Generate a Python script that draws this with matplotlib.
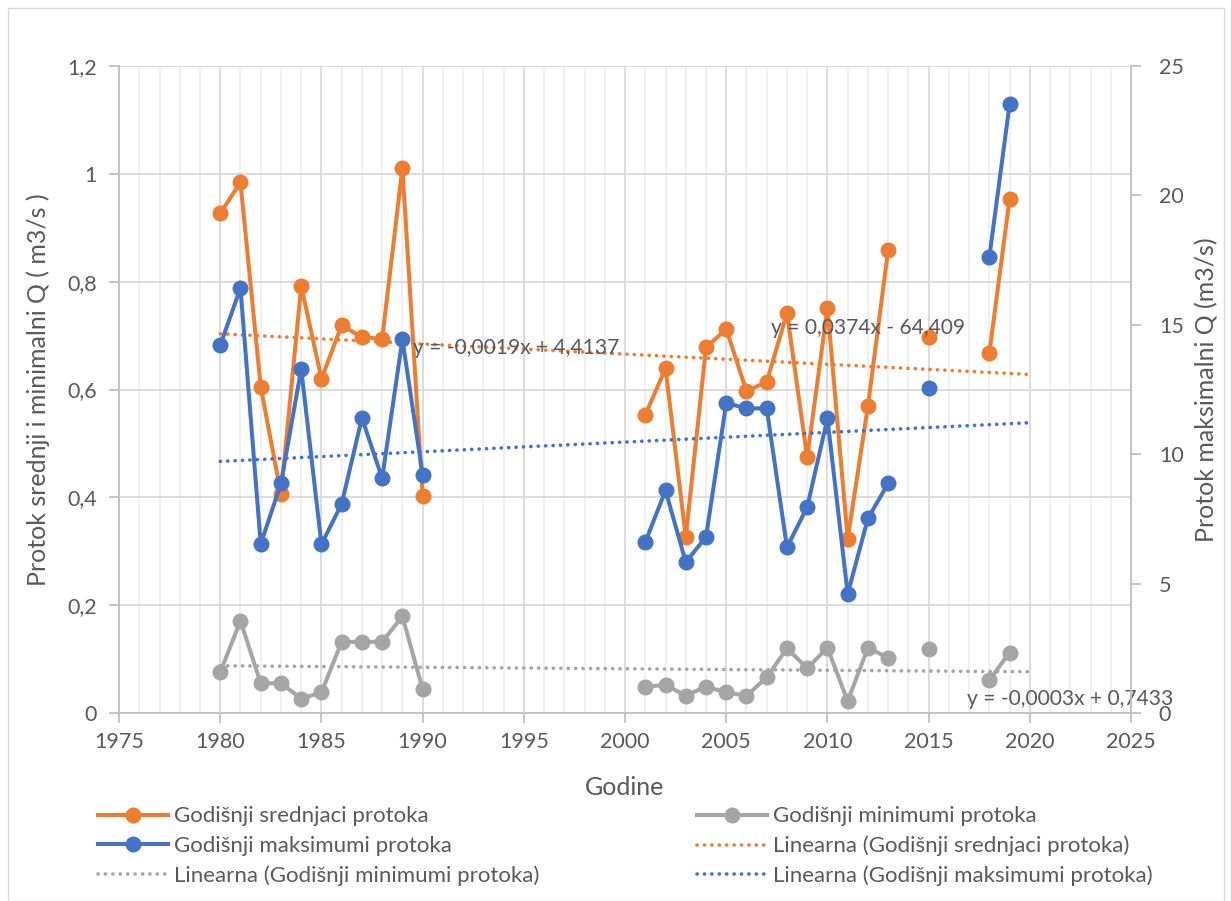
import numpy as np
import matplotlib
matplotlib.use("Agg")
import matplotlib.pyplot as plt
from matplotlib.ticker import FixedLocator, MultipleLocator
from matplotlib.lines import Line2D
from matplotlib.patches import Rectangle

plt.rcParams['font.family'] = ['Lato', 'DejaVu Sans']

nan = np.nan
years = [1980, 1981, 1982, 1983, 1984, 1985, 1986, 1987, 1988, 1989, 1990,
         1991, 1992, 1993, 1994, 1995, 1996, 1997, 1998, 1999, 2000,
         2001, 2002, 2003, 2004, 2005, 2006, 2007, 2008, 2009, 2010, 2011, 2012, 2013,
         2014, 2015, 2016, 2017, 2018, 2019]
mean_flow = [0.927, 0.984, 0.605, 0.406, 0.792, 0.620, 0.719, 0.697, 0.694, 1.011, 0.403,
             nan, nan, nan, nan, nan, nan, nan, nan, nan, nan,
             0.553, 0.639, 0.326, 0.678, 0.712, 0.597, 0.614, 0.742, 0.474, 0.751, 0.323, 0.569, 0.859,
             nan, 0.697, nan, nan, 0.668, 0.954]
max_flow = [14.21, 16.42, 6.52, 8.88, 13.29, 6.52, 8.08, 11.40, 9.07, 14.44, 9.21,
            nan, nan, nan, nan, nan, nan, nan, nan, nan, nan,
            6.60, 8.60, 5.83, 6.80, 11.98, 11.77, 11.77, 6.40, 7.96, 11.38, 4.60, 7.52, 8.87,
            nan, 12.57, nan, nan, 17.62, 23.53]
min_flow = [0.0755, 0.171, 0.055, 0.055, 0.0266, 0.038, 0.132, 0.132, 0.132, 0.179, 0.044,
            nan, nan, nan, nan, nan, nan, nan, nan, nan, nan,
            0.049, 0.052, 0.032, 0.049, 0.038, 0.032, 0.066, 0.120, 0.083, 0.121, 0.022, 0.121, 0.102,
            nan, 0.119, nan, nan, 0.061, 0.112]

x_ticks = [1975, 1980, 1985, 1990, 1995, 2000, 2005, 2010, 2015, 2020, 2025]
left_ticks = [0, 0.2, 0.4, 0.6, 0.8, 1.0, 1.2]
left_labels = ['0', '0,2', '0,4', '0,6', '0,8', '1', '1,2']
right_ticks = [0, 5, 10, 15, 20, 25]
right_labels = ['0', '5', '10', '15', '20', '25']

names = ['Godišnji srednjaci protoka', 'Godišnji minimumi protoka', 'Godišnji maksimumi protoka']
trend_names = ['Linearna (Godišnji srednjaci protoka)', 'Linearna (Godišnji minimumi protoka)',
               'Linearna (Godišnji maksimumi protoka)']
eq_texts = ['y = -0,0019x + 4,4137', 'y = -0,0003x + 0,7433', 'y = 0,0374x - 64,409']

ORANGE = '#ED7D31'
BLUE = '#4472C4'
GRAY = '#A5A5A5'
TXT = '#595959'

fig = plt.figure(figsize=(12.31, 9.01), dpi=100)
fig.patches.append(Rectangle((0.0065, 0.0), 0.988, 0.991, transform=fig.transFigure,
                             fill=False, edgecolor='#d9d9d9', lw=1.0))
ax = fig.add_axes([0.0967, 0.2087, 0.8221, 0.718])
ax2 = ax.twinx()

yrs = np.array(years, dtype=float)

def trend(vals):
    v = np.array(vals, dtype=float)
    m = ~np.isnan(v)
    p = np.polyfit(yrs[m], v[m], 1)
    xx = np.array([1980, 2020])
    return xx, np.polyval(p, xx)

lw = 2.9
ms = 10.5
dotstyle = (0, (0.05, 2.0))

tx, ty = trend(mean_flow)
ax.plot(tx, ty, color=ORANGE, lw=2.6, ls=dotstyle, dash_capstyle='round', zorder=3)
tx, ty = trend(min_flow)
ax.plot(tx, ty, color=GRAY, lw=2.6, ls=dotstyle, dash_capstyle='round', zorder=3)

ax.plot(years, min_flow, color=GRAY, lw=lw, marker='o', ms=ms, zorder=4)
ax.plot(years, mean_flow, color=ORANGE, lw=lw, marker='o', ms=ms, zorder=5)

tx, ty = trend(max_flow)
ax2.plot(tx, ty, color=BLUE, lw=2.6, ls=dotstyle, dash_capstyle='round', zorder=3)
ax2.plot(years, max_flow, color=BLUE, lw=lw, marker='o', ms=ms, zorder=4)

ax.set_xlim(1975, 2025)
ax.set_ylim(0, 1.2)
ax2.set_ylim(0, 25)

ax.xaxis.set_major_locator(FixedLocator(x_ticks))
ax.set_xticklabels([str(t) for t in x_ticks])
ax.xaxis.set_minor_locator(MultipleLocator(1))
ax.set_yticks(left_ticks)
ax.set_yticklabels(left_labels)
ax2.set_yticks(right_ticks)
ax2.set_yticklabels(right_labels)

ax.grid(True, which='major', axis='both', color='#d9d9d9', lw=1.3, zorder=0)
ax.grid(True, which='minor', axis='x', color='#efefef', lw=1.3, zorder=0)
ax.set_axisbelow(True)

for a in (ax, ax2):
    a.spines['top'].set_visible(False)
    for s in ('left', 'right', 'bottom'):
        a.spines[s].set_color('#bfbfbf')
        a.spines[s].set_linewidth(1.3)
ax.spines['right'].set_visible(False)
ax2.spines['left'].set_visible(False)
ax2.spines['bottom'].set_visible(False)

FS = 15.5
ax.tick_params(axis='both', which='major', colors='#bfbfbf', labelcolor=TXT, labelsize=FS,
               length=7, width=1.3, direction='out')
ax.tick_params(axis='x', which='minor', length=0)
ax.tick_params(axis='x', pad=7)
ax.tick_params(axis='y', pad=9)
ax2.tick_params(axis='y', colors='#bfbfbf', labelcolor=TXT, labelsize=FS, length=7, width=1.3,
                direction='out', pad=13)

LFS = 18
ax.set_xlabel('Godine', fontsize=LFS, color=TXT, labelpad=17)
ax.set_ylabel('Protok srednji i minimalni Q ( m3/s )', fontsize=LFS, color=TXT, labelpad=12)
ax2.set_ylabel('Protok maksimalni Q (m3/s)', fontsize=LFS, color=TXT, labelpad=8)

EFS = 15.1
ax.text(1989.5, 0.677, eq_texts[0], fontsize=EFS, color=TXT, ha='left', va='center', zorder=6)
ax.text(2007.2, 0.715, eq_texts[2], fontsize=EFS, color=TXT, ha='left', va='center', zorder=6)
ax.text(2016.9, 0.025, eq_texts[1], fontsize=EFS, color=TXT, ha='left', va='center', zorder=6)

handles = [
    Line2D([], [], color=ORANGE, lw=lw, marker='o', ms=ms),
    Line2D([], [], color=BLUE, lw=lw, marker='o', ms=ms),
    Line2D([], [], color=GRAY, lw=2.6, ls=dotstyle, dash_capstyle='round'),
    Line2D([], [], color=GRAY, lw=lw, marker='o', ms=ms),
    Line2D([], [], color=ORANGE, lw=2.6, ls=dotstyle, dash_capstyle='round'),
    Line2D([], [], color=BLUE, lw=2.6, ls=dotstyle, dash_capstyle='round'),
]
labels = [names[0], names[2], trend_names[1], names[1], trend_names[0], trend_names[2]]
fig.legend(handles, labels, loc='upper left', bbox_to_anchor=(0.0796, 0.105), ncol=2,
           frameon=False, fontsize=16, labelcolor=TXT, handlelength=3.15, handletextpad=0.27,
           columnspacing=7.1, labelspacing=0.42, borderaxespad=0, borderpad=0)

fig.savefig('out.png', dpi=100)
